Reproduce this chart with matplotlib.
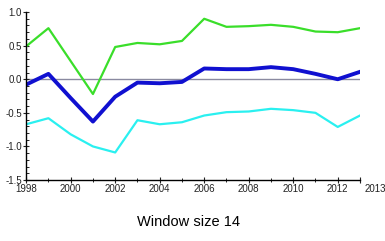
import numpy as np
import matplotlib
matplotlib.use("Agg")
import matplotlib.pyplot as plt
from matplotlib.ticker import MultipleLocator
import matplotlib.transforms as mtransforms

years = np.arange(1998, 2014)
upper = [0.49, 0.76, 0.27, -0.22, 0.48, 0.54, 0.52, 0.57, 0.90, 0.78,
         0.79, 0.81, 0.78, 0.71, 0.70, 0.76]
mid = [-0.08, 0.08, -0.28, -0.63, -0.26, -0.05, -0.06, -0.04, 0.16, 0.15,
       0.15, 0.18, 0.15, 0.08, 0.00, 0.11]
lower = [-0.67, -0.58, -0.82, -1.00, -1.09, -0.61, -0.67, -0.64, -0.54, -0.49,
         -0.48, -0.44, -0.46, -0.50, -0.71, -0.54]
xlabels = [1998, 2000, 2002, 2004, 2006, 2008, 2010, 2012, 2013]
title = "Window size 14"

plt.rcParams['font.family'] = ['Liberation Sans', 'DejaVu Sans']
fig = plt.figure(figsize=(3.85, 2.41), dpi=100)
ax = fig.add_axes([0.068, 0.253, 0.867, 0.697])

ax.plot([1998, 2013], [0, 0], color='#8a8aa0', lw=1.0, zorder=1)
ax.plot(years, upper, color='#3ade2a', lw=1.6)
ax.plot(years, lower, color='#2af0f0', lw=1.6)
ax.plot(years, mid, color='#1010d0', lw=2.8)

ax.set_xlim(1998, 2013)
ax.set_ylim(-1.5, 1.0)
ax.set_xticks(xlabels)
ax.set_xticklabels([str(v) for v in xlabels])
ax.xaxis.set_minor_locator(MultipleLocator(1))
ax.yaxis.set_major_locator(MultipleLocator(0.5))
ax.yaxis.set_minor_locator(MultipleLocator(0.1))
ax.yaxis.set_major_formatter(matplotlib.ticker.FormatStrFormatter('%.1f'))
for s in ['top', 'right']:
    ax.spines[s].set_visible(False)
for s in ['left', 'bottom']:
    ax.spines[s].set_linewidth(1.0)
ax.tick_params(axis='both', which='major', labelsize=7, length=4,
               direction='inout', pad=1, colors='#222222')
ax.tick_params(axis='both', which='minor', length=2, direction='in')
ax.tick_params(axis='x', which='minor', length=3, direction='inout')

last = ax.get_xticklabels()[-1]
last.set_ha('left')
last.set_transform(last.get_transform() +
                   mtransforms.ScaledTranslation(0.05, 0, fig.dpi_scale_trans))

fig.text(0.49, 0.08, title, ha='center', va='center', fontsize=10.5)
fig.savefig('out.png', dpi=100)
